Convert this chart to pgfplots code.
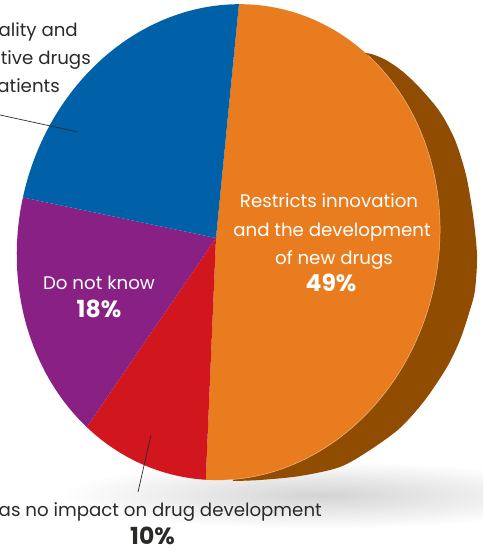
\documentclass[border=0pt]{standalone}
\usepackage{pgfplots}
\pgfplotsset{compat=1.18}
\usepackage{pgfplotstable}
\usepackage{fontspec}
\setmainfont{Poppins}
\definecolor{pieblue}{RGB}{1,97,168}
\definecolor{piepurple}{RGB}{137,33,133}
\definecolor{piered}{RGB}{210,22,30}
\definecolor{pieorange}{RGB}{232,124,30}
\definecolor{piebrown}{RGB}{144,76,0}
\definecolor{txt}{RGB}{43,42,41}
\pgfplotstableread{
share label
49 orange
10 red
18 purple
23 blue
}\piedata
% perspective view of the pie disc: apex (216,314), tilt terms
\def\px#1{216+(210.8*cos(#1)+6*sin(#1))/(1-0.0591*cos(#1)+0.0189*sin(#1))}
\def\py#1{314+(6*cos(#1)+237.4*sin(#1))/(1-0.0591*cos(#1)+0.0189*sin(#1))}
\begin{document}
\begin{tikzpicture}
\pgfplotstablegetelem{0}{share}\of\piedata \let\sO\pgfplotsretval
\pgfplotstablegetelem{1}{share}\of\piedata \let\sR\pgfplotsretval
\pgfplotstablegetelem{2}{share}\of\piedata \let\sP\pgfplotsretval
\pgfplotstablegetelem{3}{share}\of\piedata \let\sB\pgfplotsretval
\pgfmathsetmacro\tO{85.3}
\pgfmathsetmacro\tA{\tO-3.6*\sO}
\pgfmathsetmacro\tB{\tA-3.6*\sR}
\pgfmathsetmacro\tC{\tB-3.6*\sP}
\pgfmathsetmacro\tD{\tC-3.6*\sB}
\useasboundingbox (0,0) rectangle (483pt,552pt);
\clip (0,0) rectangle (483pt,552pt);
\begin{axis}[at={(0,0)}, anchor=south west, width=483pt, height=552pt, scale only axis,
  xmin=0, xmax=483, ymin=0, ymax=552, hide axis, clip=false]
% soft shadow
\shade[inner color=black!17, outer color=white] (axis cs:320,57) ellipse [x radius=260pt, y radius=34pt];
% brown extrusion of the orange slice
\addplot[fill=piebrown, draw=none, smooth] coordinates {
(345,496) (366,499) (384,493) (402,481) (420,464) (440,440) (455,412) (466,377) (473,337)
(477,297) (475,262) (470,242) (460,212) (447,185) (425,152) (400,124) (370,102)
(340,85) (300,76) (260,72) (233,71)};
\addplot[fill=piebrown, draw=none] coordinates {(345,496) (233,71) (216,314)} -- cycle;
% slices (clockwise from the top)
\addplot[fill=pieorange, draw=none, domain=\tA:\tO, samples=150]
  ({\px{x}}, {\py{x}}) -- (axis cs:216,314) -- cycle;
\addplot[fill=piered, draw=none, domain=\tB:\tA, samples=40]
  ({\px{x}}, {\py{x}}) -- (axis cs:216,314) -- cycle;
\addplot[fill=piepurple, draw=none, domain=\tC:\tB, samples=60]
  ({\px{x}}, {\py{x}}) -- (axis cs:216,314) -- cycle;
\addplot[fill=pieblue, draw=none, domain=\tD:\tC, samples=80]
  ({\px{x}}, {\py{x}}) -- (axis cs:216,314) -- cycle;
% highlight on the orange rim
\addplot[draw=pieorange!55!white, line width=0.5pt, domain=-86:47, samples=80]
  ({\px{x}}, {\py{x}});
% leader lines
\addplot[draw=txt, line width=0.7pt] coordinates {(0,437) (78,420)};
\addplot[draw=txt, line width=0.7pt] coordinates {(151,117) (138,60)};
% labels
\begin{scope}[every node/.style={inner sep=0pt, font=\fontsize{18.2}{21}\selectfont}]
\node[anchor=base, white] at (axis cs:329,344) {Restricts innovation};
\node[anchor=base, white] at (axis cs:332,315) {and the development};
\node[anchor=base, white] at (axis cs:334,287) {of new drugs};
\node[anchor=base, white, font=\fontsize{23.5}{26}\selectfont\bfseries] at (axis cs:331,260) {49\%};
\node[anchor=base, white] at (axis cs:99,262) {Do not know};
\node[anchor=base, white, font=\fontsize{23.5}{26}\selectfont\bfseries] at (axis cs:99,234) {18\%};
\node[anchor=base east, txt] at (axis cs:322,35.3) {Has no impact on drug development};
\node[anchor=base, txt, font=\fontsize{23.5}{26}\selectfont\bfseries] at (axis cs:152.5,7) {10\%};
\node[anchor=base east, txt] at (axis cs:78,515) {Ensures quality and};
\node[anchor=base east, txt] at (axis cs:91,487) {cost-effective drugs};
\node[anchor=base east, txt] at (axis cs:60,459) {for patients};
\end{scope}
\end{axis}
\end{tikzpicture}
\end{document}
